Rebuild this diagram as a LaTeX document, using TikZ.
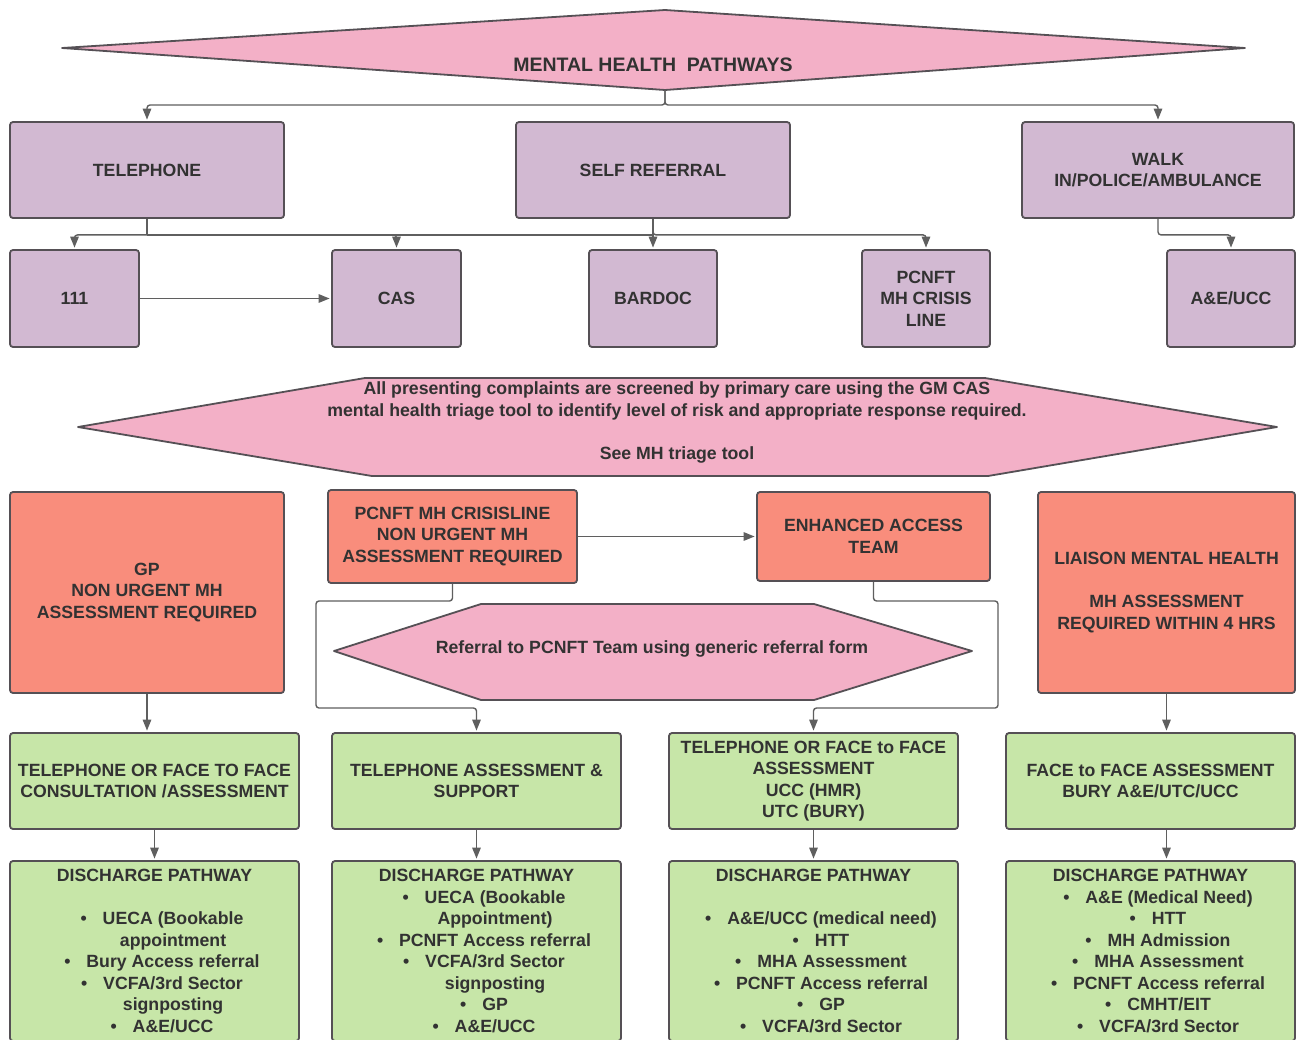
\documentclass[tikz,border=0pt]{standalone}
\usepackage{fontspec}
\setmainfont{Liberation Sans}
\usetikzlibrary{arrows.meta}
\definecolor{pinkf}{RGB}{243,176,199}
\definecolor{purpf}{RGB}{210,185,210}
\definecolor{redf}{RGB}{249,141,124}
\definecolor{greenf}{RGB}{199,230,168}
\definecolor{bordc}{RGB}{85,80,85}
\definecolor{connc}{RGB}{95,95,95}
\definecolor{textc}{RGB}{50,50,50}
\newcommand\mybul{\hspace*{15pt}\textbullet\hspace{0.9em}}
\newcommand\mycont{\hspace*{15pt}\hspace*{1.25em}}
\begin{document}
\begin{tikzpicture}[x=1pt,y=-1pt,
  font=\fontsize{17.7}{21.5}\selectfont\bfseries,
  box/.style={draw=bordc, line width=1.8pt, rounded corners=3pt, align=center, text=textc, inner sep=2pt},
  pbox/.style={box, fill=purpf},
  rbox/.style={box, fill=redf},
  gbox/.style={box, fill=greenf},
  conn/.style={draw=connc, line width=1.4pt, rounded corners=3pt},
  arr/.style={conn, -{Triangle[length=11pt,width=8.5pt]}, shorten >=1.5pt},
  hexa/.style={draw=bordc, line width=1.8pt, fill=pinkf, line join=round},
  lbl/.style={text=textc, align=center, inner sep=0pt}
]
\useasboundingbox[fill=white] (0,0) rectangle (1296,1039);

% title diamond
\path[hexa] (62,48) -- (665,10) -- (1245,48) -- (665,90) -- cycle;
\node[lbl, font=\fontsize{19.5}{22}\selectfont\bfseries] (title) at (653,65) {MENTAL HEALTH\ \ PATHWAYS};
\coordinate (mhb) at (665,90);

% row 1
\node[pbox, minimum width=274, minimum height=96] (tel) at (147,170) {TELEPHONE};
\node[pbox, minimum width=274, minimum height=96] (self) at (653,170) {SELF REFERRAL};
\node[pbox, minimum width=272, minimum height=96] (walk) at (1158,170) {WALK\\IN/POLICE/AMBULANCE};

% row 2
\node[pbox, minimum width=129, minimum height=97] (n111) at (74.5,298.5) {111};
\node[pbox, minimum width=129, minimum height=97] (cas) at (396.5,298.5) {CAS};
\node[pbox, minimum width=128, minimum height=97] (bardoc) at (653,298.5) {BARDOC};
\node[pbox, minimum width=128, minimum height=97] (pcnft) at (926,298.5) {PCNFT\\MH CRISIS\\LINE};
\node[pbox, minimum width=128, minimum height=97] (ae) at (1231,298.5) {A\&E/UCC};

% top connectors
\draw[arr] (mhb) -- ++(0,15) -| (tel.north);
\draw[arr] (mhb) -- ++(0,15) -| (walk.north);

\draw[conn] (tel.south) -- ++(0,16) coordinate (tb);
\draw[arr] (tb) -| (n111.north);
\draw[arr] (tb) -| (cas.north);
\draw[conn] (tb) -- (self.south |- tb);
\draw[arr] (self.south) -- (bardoc.north);
\draw[arr] (self.south) -- ++(0,16) -| (pcnft.north);
\draw[arr] (walk.south) -- ++(0,16) -| (ae.north);
\draw[arr] (n111.east) -- (cas.west);

% screening hexagon
\path[hexa] (78,427) -- (365,378) -- (985,378) -- (1277,427) -- (988,476) -- (372,476) -- cycle;
\node[lbl] (screen) at (677,422.5) {All presenting complaints are screened by primary care using the GM CAS\\mental health triage tool to identify level of risk and appropriate response required.\\[21.5pt]See MH triage tool};

% red row
\node[rbox, minimum width=274, minimum height=201] (gp) at (147,592.5) {GP\\NON URGENT MH\\ASSESSMENT REQUIRED};
\node[rbox, minimum width=249, minimum height=93] (crisis) at (452.5,536.5) {PCNFT MH CRISISLINE\\NON URGENT MH\\ASSESSMENT REQUIRED};
\node[rbox, minimum width=233, minimum height=89] (enh) at (873.5,536.5) {ENHANCED ACCESS\\TEAM};
\node[rbox, minimum width=257, minimum height=201] (liaison) at (1166.5,592.5) {LIAISON MENTAL HEALTH\\[21.5pt]MH ASSESSMENT\\REQUIRED WITHIN 4 HRS};
\draw[arr] (crisis.east) -- (enh.west);

% referral hexagon
\path[hexa] (334,651) -- (481,604) -- (814,604) -- (972,651) -- (814,700) -- (481,700) -- cycle;
\node[lbl] (refer) at (652,649) {Referral to PCNFT Team using generic referral form};

% green row 1
\node[gbox, minimum width=289, minimum height=96] (g1) at (154.5,781) {TELEPHONE OR FACE TO FACE\\CONSULTATION /ASSESSMENT};
\node[gbox, minimum width=289, minimum height=96] (g2) at (476.5,781) {TELEPHONE ASSESSMENT \&\\SUPPORT};
\node[gbox, minimum width=289, minimum height=96] (g3) at (813.5,781) {TELEPHONE OR FACE to FACE\\ASSESSMENT\\UCC (HMR)\\UTC (BURY)};
\node[gbox, minimum width=289, minimum height=96] (g4) at (1150.5,781) {FACE to FACE ASSESSMENT\\BURY A\&E/UTC/UCC};

% red -> green connectors
\coordinate (lA) at (316,601);
\coordinate (lB) at (316,708);
\coordinate (rA) at (998,601);
\coordinate (rB) at (998,708);
\draw[arr] (gp.south) -- (gp.south |- g1.north);
\draw[arr] (crisis.south) |- (lA) -- (lB) -| (g2.north);
\draw[arr] (enh.south) |- (rA) -- (rB) -| (g3.north);
\draw[arr] (liaison.south) -- (liaison.south |- g4.north);

% discharge row
\node[gbox, minimum width=289, minimum height=180] (d1) at (154.5,951) {DISCHARGE PATHWAY\\[21.5pt]\mybul UECA (Bookable\\\mycont appointment\\\mybul Bury Access referral\\\mybul VCFA/3rd Sector\\\mycont signposting\\\mybul A\&E/UCC};
\node[gbox, minimum width=289, minimum height=180] (d2) at (476.5,951) {DISCHARGE PATHWAY\\\mybul UECA (Bookable\\\mycont Appointment)\\\mybul PCNFT Access referral\\\mybul VCFA/3rd Sector\\\mycont signposting\\\mybul GP\\\mybul A\&E/UCC};
\node[gbox, minimum width=289, minimum height=180] (d3) at (813.5,951) {DISCHARGE PATHWAY\\[21.5pt]\mybul A\&E/UCC (medical need)\\\mybul HTT\\\mybul MHA Assessment\\\mybul PCNFT Access referral\\\mybul GP\\\mybul VCFA/3rd Sector};
\node[gbox, minimum width=289, minimum height=180] (d4) at (1150.5,951) {DISCHARGE PATHWAY\\\mybul A\&E (Medical Need)\\\mybul HTT\\\mybul MH Admission\\\mybul MHA Assessment\\\mybul PCNFT Access referral\\\mybul CMHT/EIT\\\mybul VCFA/3rd Sector};

\draw[arr] (g1.south) -- (d1.north);
\draw[arr] (g2.south) -- (d2.north);
\draw[arr] (g3.south) -- (d3.north);
\draw[arr] (g4.south -| liaison.south) -- (d4.north -| liaison.south);
\end{tikzpicture}
\end{document}
